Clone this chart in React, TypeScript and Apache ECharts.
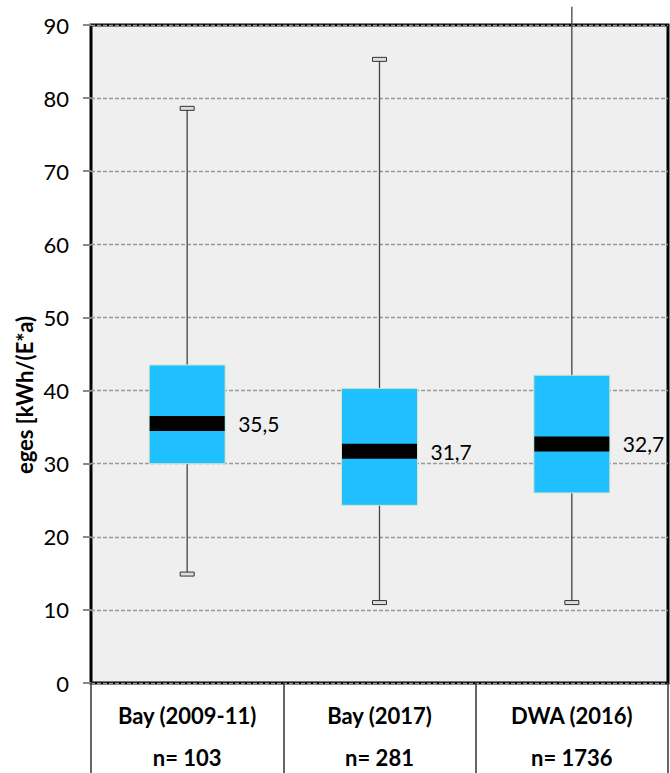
import React, { useEffect, useRef } from "react";
import * as echarts from "echarts";

const categories = ["Bay (2009-11)", "Bay (2017)", "DWA (2016)"];
const sampleSizes = [103, 281, 1736];
const whiskerLow = [14.9, 11.0, 11.0];
const quartile1 = [30.0, 24.3, 26.0];
const medians = [35.5, 31.7, 32.7];
const quartile3 = [43.5, 40.3, 42.1];
const whiskerHigh = [78.6, 85.3, 92.5];
const hasTopCap = [1, 1, 0];
const yTicks = { min: 0, max: 90, interval: 10 };
const yAxisTitle = "eges [kWh/(E*a)";

const FONT = "Lato, 'Open Sans', sans-serif";

export default function App() {
  const ref = useRef<HTMLDivElement>(null);
  useEffect(() => {
    if (!ref.current) return;
    const chart = echarts.init(ref.current, null, { renderer: "svg" });
    const data = categories.map((_, i) => [
      i,
      whiskerLow[i],
      quartile1[i],
      medians[i],
      quartile3[i],
      whiskerHigh[i],
      hasTopCap[i],
    ]);
    chart.setOption({
      animation: false,
      grid: {
        left: 91,
        right: 2,
        top: 25,
        bottom: 90,
        show: true,
        backgroundColor: "#efefef",
        borderColor: "#000",
        borderWidth: 3,
      },
      xAxis: {
        type: "category",
        data: categories,
        boundaryGap: true,
        axisLine: { show: false },
        axisTick: {
          show: true,
          length: 90,
          lineStyle: { color: "#333", width: 1.5 },
        },
        axisLabel: {
          margin: 11,
          interval: 0,
          formatter: (v: string, idx: number) =>
            `{a|${v}}\n{b|n= ${sampleSizes[idx]}}`,
          rich: {
            a: { fontFamily: FONT, fontWeight: "bold", fontSize: 22, lineHeight: 42, color: "#000" },
            b: { fontFamily: FONT, fontWeight: "bold", fontSize: 22, lineHeight: 42, color: "#000" },
          },
        },
        splitLine: { show: false },
      },
      yAxis: {
        type: "value",
        min: yTicks.min,
        max: yTicks.max,
        interval: yTicks.interval,
        axisLine: { show: false },
        axisTick: { show: true, length: 8, lineStyle: { color: "#888", width: 2 } },
        axisLabel: { margin: 22, fontFamily: FONT, fontSize: 22, color: "#000" },
        splitLine: { show: true, lineStyle: { color: "#999", type: [4, 2], width: 1.3 } },
      },
      graphic: [
        {
          type: "text",
          x: 24,
          y: 395,
          rotation: Math.PI / 2,
          style: {
            text: yAxisTitle,
            fontFamily: FONT,
            fontWeight: "bold",
            fontSize: 22,
            fill: "#000",
            align: "center",
            verticalAlign: "middle",
          },
        },
      ],
      series: [
        {
          type: "custom",
          clip: false,
          data,
          encode: { x: 0, y: [1, 2, 3, 4, 5] },
          renderItem: (params: any, api: any) => {
            const i = api.value(0);
            const lo = api.coord([i, api.value(1)]);
            const q1 = api.coord([i, api.value(2)]);
            const med = api.coord([i, api.value(3)]);
            const q3 = api.coord([i, api.value(4)]);
            const hi = api.coord([i, api.value(5)]);
            const cap = api.value(6);
            const bw = api.size([1, 0])[0] * 0.395;
            const cx = lo[0];
            const capW = 14;
            const capH = 4;
            const children: any[] = [
              {
                type: "line",
                shape: { x1: cx, y1: lo[1], x2: cx, y2: hi[1] },
                style: { stroke: "#444", lineWidth: 1.3 },
              },
              {
                type: "rect",
                shape: { x: cx - capW / 2, y: lo[1] - capH / 2, width: capW, height: capH },
                style: { fill: "#ddd", stroke: "#333", lineWidth: 1 },
              },
            ];
            if (cap) {
              children.push({
                type: "rect",
                shape: { x: cx - capW / 2, y: hi[1] - capH / 2, width: capW, height: capH },
                style: { fill: "#ddd", stroke: "#333", lineWidth: 1 },
              });
            }
            children.push(
              {
                type: "rect",
                shape: { x: cx - bw / 2, y: q3[1], width: bw, height: q1[1] - q3[1] },
                style: { fill: "#20bfff", stroke: "#d5e6c8", lineWidth: 1 },
              },
              {
                type: "rect",
                shape: { x: cx - bw / 2 + 0.5, y: med[1] - 7.5, width: bw - 1, height: 15 },
                style: { fill: "#000" },
              },
              {
                type: "text",
                x: cx + bw / 2 + 13,
                y: med[1],
                style: {
                  text: medians[params.dataIndex].toFixed(1).replace(".", ","),
                  fontFamily: FONT,
                  fontSize: 21,
                  fill: "#000",
                  align: "left",
                  verticalAlign: "middle",
                },
              }
            );
            return { type: "group", children };
          },
        },
      ],
    });
    return () => chart.dispose();
  }, []);
  return (
    <div
      ref={ref}
      style={{ position: "absolute", left: 0, top: 0, width: 670, height: 773, background: "#fff" }}
    />
  );
}
